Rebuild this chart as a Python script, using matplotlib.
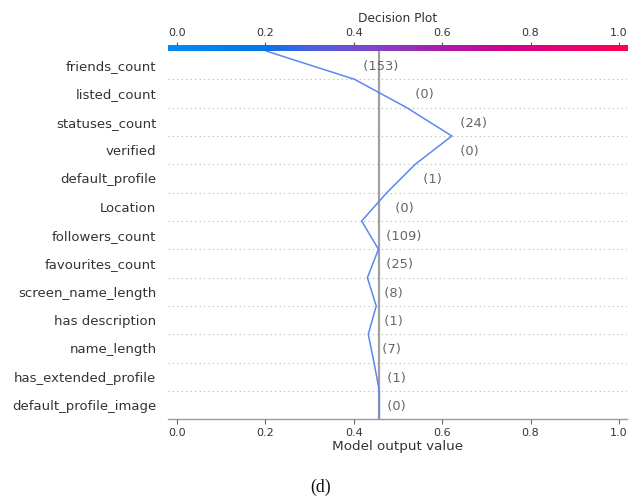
import numpy as np
import matplotlib
matplotlib.use("Agg")
import matplotlib.pyplot as plt
from matplotlib.colors import LinearSegmentedColormap

# Features, most important first (top of the plot)
features = [
    "friends_count", "listed_count", "statuses_count", "verified",
    "default_profile", "Location", "followers_count", "favourites_count",
    "screen_name_length", "has description", "name_length",
    "has_extended_profile", "default_profile_image",
]
feature_values = [153, 0, 24, 0, 1, 0, 109, 25, 8, 1, 7, 1, 0]

# Cumulative model output at each row boundary, from the base value (bottom)
# up to the final prediction (top)
base_value = 0.458
output_path = [0.458, 0.458, 0.446, 0.433, 0.451, 0.431, 0.456,
               0.418, 0.475, 0.539, 0.622, 0.520, 0.402, 0.202]
x_ticks = [0.0, 0.2, 0.4, 0.6, 0.8, 1.0]
x_ticklabels = ["0.0", "0.2", "0.4", "0.6", "0.8", "1.0"]

# blue -> purple -> red colour scale
red_blue = LinearSegmentedColormap.from_list("red_blue", [
    (0.00, (0 / 255, 139 / 255, 245 / 255)),
    (0.20, (0 / 255, 118 / 255, 232 / 255)),
    (0.32, (80 / 255, 95 / 255, 222 / 255)),
    (0.45, (130 / 255, 68 / 255, 200 / 255)),
    (0.60, (172 / 255, 25 / 255, 170 / 255)),
    (0.75, (212 / 255, 0 / 255, 140 / 255)),
    (0.90, (240 / 255, 0 / 255, 108 / 255)),
    (1.00, (255 / 255, 0 / 255, 82 / 255)),
])

W_PX, H_PX = 638, 497
fig = plt.figure(figsize=(W_PX / 100, H_PX / 100), dpi=100)
left, right = 167.5 / W_PX, 627 / W_PX
bottom, top = 1 - 419.3 / H_PX, 1 - 51 / H_PX
ax = fig.add_axes([left, bottom, right - left, top - bottom])

n = len(features)
xlim = (-0.021, 1.018)
ax.set_xlim(xlim)
ax.set_ylim(0, n)

# dotted row separators
for y in range(1, n):
    ax.axhline(y, color="#b5b5b5", lw=0.8, ls=(0, (1, 3)), zorder=0)

# base value marker
ax.axvline(base_value, color="#a0a0a0", lw=1.6, zorder=1)

# decision path
y_pos = np.arange(n + 1)
ax.plot(output_path, y_pos, color=(0.36, 0.53, 0.95), lw=1.1, zorder=3)

# feature value annotations
vals_bottom_up = feature_values[::-1]
for i in range(n):
    xv = max(output_path[i], output_path[i + 1])
    ax.text(xv, i + 0.5, "  (" + str(vals_bottom_up[i]) + ")", fontsize=9.4,
            color="#666666", ha="left", va="center_baseline", zorder=4)

ax.set_yticks(np.arange(n) + 0.5)
ax.set_yticklabels(features[::-1], fontsize=9.5, color="#333333")
ax.tick_params(axis="y", length=0, pad=8)
ax.set_xticks(x_ticks)
ax.set_xticklabels(x_ticklabels, fontsize=8, color="#333333")
ax.tick_params(axis="x", length=3.5, width=0.8, color="#666666", pad=2.5)
for s in ["top", "left", "right"]:
    ax.spines[s].set_visible(False)
ax.spines["bottom"].set_color("#999999")
ax.spines["bottom"].set_linewidth(1.0)
ax.set_xlabel("Model output value", fontsize=9.7, color="#333333", labelpad=2)

# colour bar along the top
cax = fig.add_axes([left, top, right - left, 6 / H_PX])
grad = np.linspace(0, 1, 512).reshape(1, -1)
cax.imshow(grad, cmap=red_blue, aspect="auto", extent=(xlim[0], xlim[1], 0, 1))
cax.set_xlim(xlim)
cax.set_yticks([])
for s in cax.spines.values():
    s.set_visible(False)
cax.xaxis.tick_top()
cax.set_xticks(x_ticks)
cax.set_xticklabels(x_ticklabels, fontsize=8, color="#333333")
cax.tick_params(axis="x", length=2, width=0.8, color="#555555", pad=3)
cax.set_title("Decision Plot", fontsize=8.8, color="#333333", pad=4)

fig.text(0.503, 1 - 487 / H_PX, "(d)", family="Liberation Serif",
         fontsize=12.8, ha="center", va="center", color="#111111")

fig.savefig("out.png", dpi=100)
